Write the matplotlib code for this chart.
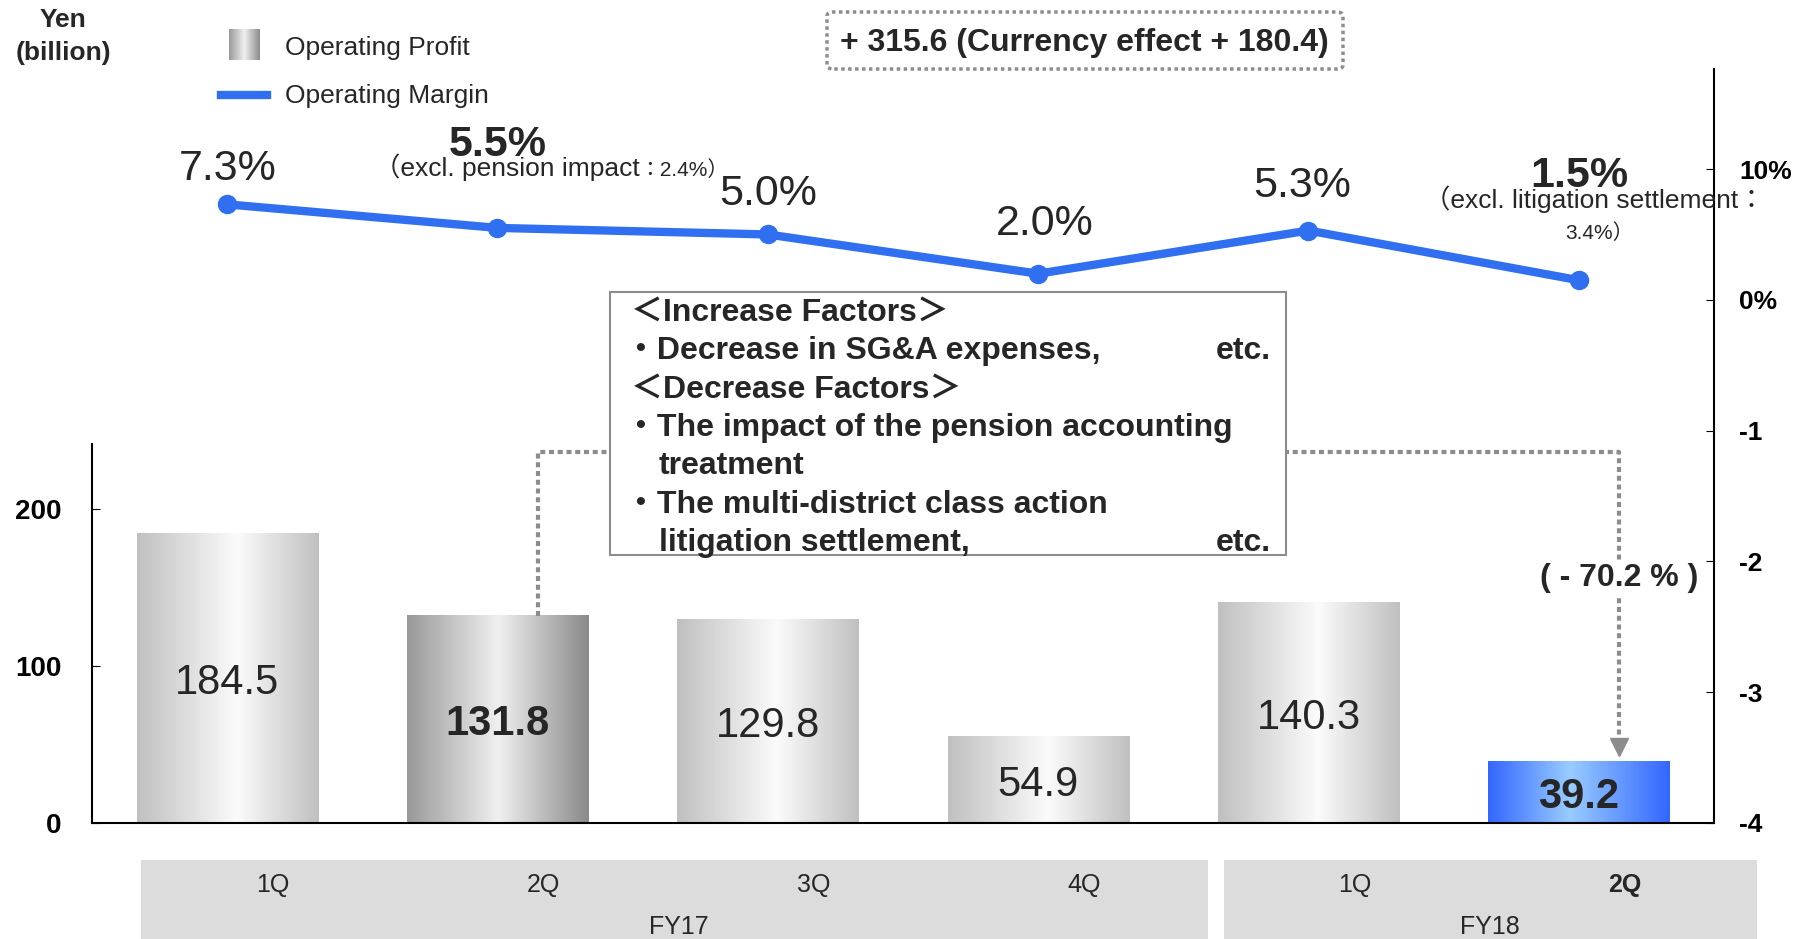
import numpy as np
import matplotlib
matplotlib.use('Agg')
import matplotlib.pyplot as plt
from matplotlib import font_manager
from matplotlib.colors import LinearSegmentedColormap
from matplotlib.patches import Rectangle, FancyBboxPatch
from matplotlib.lines import Line2D

quarters = ['1Q', '2Q', '3Q', '4Q', '1Q', '2Q']
fiscal_years = ['FY17', 'FY18']
year_of_quarter = [0, 0, 0, 0, 1, 1]
operating_profit = [184.5, 131.8, 129.8, 54.9, 140.3, 39.2]
operating_margin = [7.3, 5.5, 5.0, 2.0, 5.3, 1.5]
margin_tick_values = [-40, -30, -20, -10, 0, 10]
profit_tick_values = [0, 100, 200]
yoy_text = '( - 70.2 % )'
total_text = '+ 315.6 (Currency effect + 180.4)'

plt.rcParams['font.family'] = ['Liberation Sans', 'Noto Sans CJK JP']
TXT = '#262626'
BLUE = '#3070f0'
GREY_LINE = '#8c8c8c'

try:
    font_manager.findfont('Liberation Sans Narrow', fallback_to_default=False)
    narrow = ['Liberation Sans Narrow', 'Liberation Sans']
except ValueError:
    narrow = ['Liberation Sans']

W, H = 1807, 939


def fx(p):
    return p / W


def fy(p):
    return 1 - p / H


cmaps = {
    'grey': LinearSegmentedColormap.from_list('g', [(0, '#c0c0c0'), (0.55, '#fbfbfb'), (1, '#c0c0c0')]),
    'dark': LinearSegmentedColormap.from_list('d', [(0, '#999999'), (0.5, '#f0f0f0'), (1, '#8a8a8a')]),
    'blue': LinearSegmentedColormap.from_list('b', [(0, '#3366ff'), (0.45, '#99ccff'), (1, '#3366ff')]),
}
bar_style = ['grey', 'dark', 'grey', 'grey', 'grey', 'blue']
grad = np.linspace(0, 1, 256)[None, :]

fig = plt.figure(figsize=(W / 100, H / 100), dpi=100)
ax = fig.add_axes([fx(92), fy(823), fx(1714 - 92), (823 - 69) / H])
ax2 = ax.twinx()

# bars with horizontal gradient
width = 0.67
x = np.arange(len(operating_profit))
for i, v in enumerate(operating_profit):
    ax.imshow(grad, cmap=cmaps[bar_style[i]], aspect='auto',
              extent=(x[i] - width / 2, x[i] + width / 2, 0, v), zorder=2)
    bold = bar_style[i] != 'grey'
    ax.text(x[i], v / 2 - 3, f'{v:.1f}', ha='center', va='center', fontsize=30,
            family=narrow, fontweight='bold' if bold else 'normal', color=TXT, zorder=3)

ax.set_xlim(-0.5, 5.5)
ax.set_ylim(0, 480)
ax.set_xticks([])
ax.set_yticks(profit_tick_values)
ax.tick_params(axis='y', direction='in', length=6, pad=22, labelsize=20)
for lab in ax.get_yticklabels():
    lab.set_fontweight('bold')
ax.spines['top'].set_visible(False)
ax.spines['right'].set_visible(False)
ax.spines['left'].set_bounds(0, 241)
for s in ['left', 'bottom']:
    ax.spines[s].set_linewidth(1.5)

# margin line
ax2.plot(x, operating_margin, color=BLUE, lw=6, marker='o', ms=13, zorder=4)
ax2.set_ylim(-40, 17.65)
ax2.set_yticks(margin_tick_values)
ax2.set_yticklabels([f'{v}%' for v in margin_tick_values])
ax2.tick_params(axis='y', direction='in', length=6, pad=18, labelsize=19)
for lab in ax2.get_yticklabels():
    lab.set_fontweight('bold')
for s in ['left', 'top', 'bottom']:
    ax2.spines[s].set_visible(False)
ax2.spines['right'].set_linewidth(1.5)

label_offsets = [(0, 35), (0, 83), (0, 40), (7, 50), (-6, 45), (0, 104)]
for i, m in enumerate(operating_margin):
    bold = i in (1, 5)
    ax2.annotate(f'{m:.1f}%', (x[i], m), xytext=label_offsets[i], textcoords='offset pixels',
                 ha='center', va='center', fontsize=31,
                 fontweight='bold' if bold else 'normal', color=TXT)

ax2.annotate('（excl. pension impact', (x[1], operating_margin[1]), xytext=(142, 52),
             textcoords='offset pixels', ha='right', va='baseline', fontsize=19, color=TXT)
ax2.annotate('：2.4%）', (x[1], operating_margin[1]), xytext=(142, 52),
             textcoords='offset pixels', ha='left', va='baseline', fontsize=15, color=TXT)
ax2.annotate('（excl. litigation settlement：', (x[5], operating_margin[5]), xytext=(15, 81),
             textcoords='offset pixels', ha='center', va='center', fontsize=19, color=TXT)
ax2.annotate('3.4%）', (x[5], operating_margin[5]), xytext=(21, 47),
             textcoords='offset pixels', ha='center', va='center', fontsize=15, color=TXT)

# dotted connector from 2Q FY17 to 2Q FY18
top = 236
ax.plot([1.15, 1.15, 5.15, 5.15], [operating_profit[1], top, top, operating_profit[5] + 11],
        color=GREY_LINE, lw=3, linestyle=(0, (1.2, 0.9)), dash_capstyle='butt',
        clip_on=False, zorder=5)
ax.plot([5.15], [operating_profit[5] + 9], marker='v', ms=13, color=GREY_LINE, zorder=5, clip_on=False)
ax.text(5.15, 156, yoy_text, ha='center', va='center', fontsize=23, fontweight='bold', color=TXT,
        bbox=dict(facecolor='white', edgecolor='none', pad=2), zorder=6)

# factors box
fig.patches.append(Rectangle((fx(610), fy(555)), fx(1286 - 610), (555 - 292) / H,
                             transform=fig.transFigure, facecolor='white', edgecolor='#8c8c8c',
                             lw=1.5, zorder=3))
box_lines = [
    (631, 313, '＜Increase Factors＞'),
    (625, 351, '・Decrease in SG&A expenses,'),
    (631, 390, '＜Decrease Factors＞'),
    (625, 428, '・The impact of the pension accounting'),
    (659, 466, 'treatment'),
    (625, 505, '・The multi-district class action'),
    (659, 543, 'litigation settlement,'),
]
for px, py, t in box_lines:
    fig.text(fx(px), fy(py), t, ha='left', va='center', fontsize=23, fontweight='bold',
             color=TXT, zorder=4)
for py in (351, 543):
    fig.text(fx(1271), fy(py), 'etc.', ha='right', va='center', fontsize=23, fontweight='bold',
             color=TXT, zorder=4)

# top total box
fig.patches.append(FancyBboxPatch((fx(827), fy(69)), fx(1343 - 827), (69 - 12) / H,
                                  boxstyle='round,pad=0,rounding_size=0.004',
                                  transform=fig.transFigure, facecolor='none',
                                  edgecolor='#8c8c8c', lw=2.5, linestyle=(0, (1, 1)), zorder=3))
fig.text(fx(1084), fy(43), total_text, ha='center', va='center', fontsize=23,
         fontweight='bold', color=TXT)
fig.text(fx(1003), fy(-16), '(', ha='center', va='center', fontsize=23, fontweight='bold', color=TXT)
fig.text(fx(1157), fy(-16), ')', ha='center', va='center', fontsize=23, fontweight='bold', color=TXT)

# legend
leg = fig.add_axes([fx(229), fy(60), fx(31), 31 / H])
leg.imshow(grad, cmap=cmaps['dark'], aspect='auto')
leg.axis('off')
fig.add_artist(Line2D([fx(221), fx(267)], [fy(95), fy(95)], transform=fig.transFigure,
                      color=BLUE, lw=6))
fig.text(fx(285), fy(48), 'Operating Profit', ha='left', va='center', fontsize=19, color=TXT)
fig.text(fx(285), fy(96), 'Operating Margin', ha='left', va='center', fontsize=19, color=TXT)
fig.text(fx(63), fy(20), 'Yen', ha='center', va='center', fontsize=19, fontweight='bold', color=TXT)
fig.text(fx(63), fy(53), '(billion)', ha='center', va='center', fontsize=19, fontweight='bold', color=TXT)

# cut-off edge on the lower right
fig.patches.append(Rectangle((fx(1763), 0), fx(W - 1763), (H - 400) / H,
                             transform=fig.transFigure, facecolor='white', edgecolor='none', zorder=2))

# category bands
fig.patches.append(Rectangle((fx(141), 0), fx(1208 - 141), (H - 860) / H,
                             transform=fig.transFigure, facecolor='#dcdcdc', edgecolor='none', zorder=2))
fig.patches.append(Rectangle((fx(1224), 0), fx(1757 - 1224), (H - 860) / H,
                             transform=fig.transFigure, facecolor='#dcdcdc', edgecolor='none', zorder=2))
tr = matplotlib.transforms.blended_transform_factory(ax.transData, fig.transFigure)
for i, q in enumerate(quarters):
    fig.text(x[i] + 0.17, fy(885), q, transform=tr, ha='center', va='center', fontsize=18,
             fontweight='bold' if i == 5 else 'normal', color=TXT, zorder=4)
for k, fy_lab in enumerate(fiscal_years):
    xs = [x[i] for i in range(len(quarters)) if year_of_quarter[i] == k]
    fig.text(np.mean(xs) + 0.17, fy(927), fy_lab, transform=tr, ha='center', va='center',
             fontsize=18, color=TXT, zorder=4)

fig.savefig('out.png', dpi=100)
